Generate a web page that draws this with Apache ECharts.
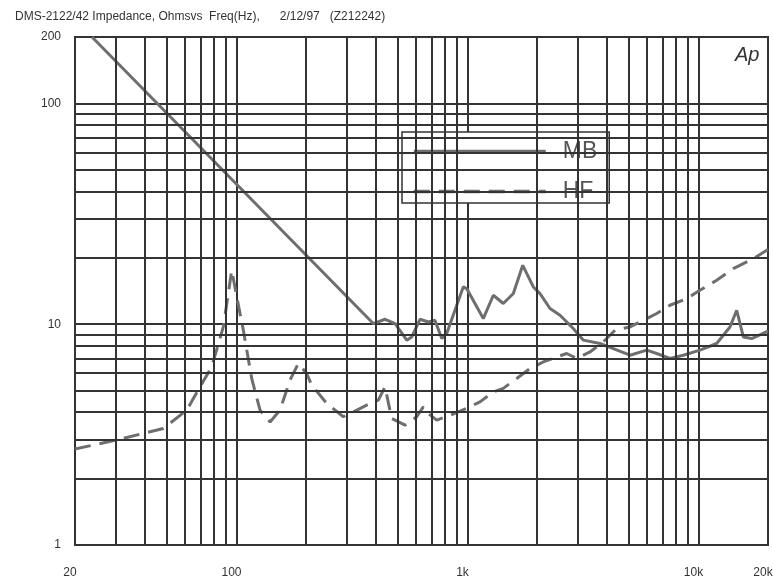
<!DOCTYPE html>
<html><head><meta charset="utf-8">
<script src="https://cdn.jsdelivr.net/npm/echarts@6/dist/echarts.min.js"></script>
<style>html,body{margin:0;padding:0;background:#fff}#c{width:773px;height:588px}</style>
</head><body><div id="c"></div>
<script>
const titleText = 'DMS-2122/42 Impedance, Ohmsvs  Freq(Hz),      2/12/97   (Z212242)';
const cornerMark = 'Ap';
const seriesNames = ['MB', 'HF'];

const freqMB = [23.7, 391, 440, 486, 546, 574, 623, 677, 723, 774, 813, 959, 992, 1171, 1294, 1429, 1580, 1735, 1928, 2061, 2277, 2516, 2871, 3174, 3748, 4278, 5054, 5970, 6596, 7530, 8596, 10150, 11990, 13690, 14640, 15640, 17000, 20000];
const zMB = [200, 10.07, 10.53, 10.07, 8.47, 8.76, 10.53, 10.24, 10.42, 8.61, 9.08, 14.75, 14.51, 10.61, 13.53, 12.41, 13.77, 18.49, 14.75, 13.77, 11.78, 10.98, 9.56, 8.47, 8.18, 7.76, 7.24, 7.63, 7.37, 7.0, 7.24, 7.63, 8.18, 9.72, 11.57, 8.76, 8.61, 9.3];

const freqHF = [20, 30.3, 48.2, 60.9, 69.5, 78.1, 87.7, 95.4, 103.6, 107.1, 116.4, 126.5, 139.8, 154.3, 170.5, 185.2, 201.4, 211.7, 245.8, 290.2, 320.6, 366.3, 411.2, 439.6, 470, 536.7, 603, 643.9, 676.6, 736, 840.4, 992.4, 1133, 1294, 1429, 1634, 1865, 2130, 2434, 2690, 2972, 3392, 3873, 4353, 5054, 5770, 6596, 7530, 8894, 10150, 11990, 14150, 17280, 20000];
const zHF = [2.72, 2.99, 3.37, 4.08, 5.20, 6.41, 9.72, 17.55, 11.18, 9.40, 5.68, 4.08, 3.61, 4.08, 5.58, 6.64, 5.98, 5.30, 4.38, 3.81, 4.01, 4.30, 4.53, 5.20, 3.74, 3.49, 3.81, 4.22, 3.94, 3.68, 3.87, 4.16, 4.45, 4.94, 5.12, 5.68, 6.30, 6.75, 7.11, 7.37, 7.0, 7.49, 8.32, 9.40, 9.72, 10.42, 11.18, 12.19, 13.07, 14.25, 15.82, 17.87, 19.83, 21.8];

const xTickValues = [20, 100, 1000, 10000, 20000];
const xTickLabels = ['20', '100', '1k', '10k', '20k'];
const yTickValues = [1, 10, 100, 200];
const yTickLabels = ['1', '10', '100', '200'];
const xMinorGrid = [30, 40, 50, 60, 70, 80, 90, 200, 300, 400, 500, 600, 700, 800, 900, 2000, 3000, 4000, 5000, 6000, 7000, 8000, 9000];
const yMinorGrid = [2, 3, 4, 5, 6, 7, 8, 9, 20, 30, 40, 50, 60, 70, 80, 90];

function pickLabel(vals, labels, v) {
  for (let i = 0; i < vals.length; i++) {
    if (Math.abs(v - vals[i]) / vals[i] < 1e-4) return labels[i];
  }
  return '';
}

const gridColor = '#333';
const lineColor = '#6e6e6e';
const chart = echarts.init(document.getElementById('c'), null, {renderer: 'canvas'});
chart.setOption({
  animation: false,
  backgroundColor: '#fff',
  title: {
    text: titleText, left: 10, top: 6,
    textStyle: {fontSize: 12, fontWeight: 'normal', color: '#333', fontFamily: 'Liberation Sans, Arial, sans-serif'}
  },
  grid: {left: 75, right: 5, top: 37, bottom: 43, containLabel: false, outerBoundsMode: 'none',
         show: true, borderColor: gridColor, borderWidth: 2, backgroundColor: 'transparent'},
  legend: {
    data: seriesNames, orient: 'vertical', left: 402, top: 132,
    itemWidth: 132, itemHeight: 20, itemGap: 17,
    padding: [8, 12, 0, 10],
    backgroundColor: '#fff', borderColor: '#333', borderWidth: 1.5,
    selectedMode: false,
    itemStyle: {opacity: 0},
    lineStyle: {width: 3.5, color: lineColor},
    textStyle: {fontSize: 23, color: '#555', padding: [0, 0, 0, 12], fontFamily: 'Liberation Sans, Arial, sans-serif'}
  },
  graphic: [{
    type: 'text', left: 735, top: 45, z: 10,
    style: {text: cornerMark, font: 'italic 20px "Liberation Sans", Arial, sans-serif', fill: '#333'}
  }],
  xAxis: {
    type: 'log', logBase: 10, min: 20, max: 20000,
    axisLine: {show: true, lineStyle: {color: gridColor, width: 2}},
    axisTick: {show: false},
    splitLine: {show: true, lineStyle: {color: gridColor, width: 2}},
    axisLabel: {
      margin: 22, fontSize: 12, color: '#333', fontFamily: 'Liberation Sans, Arial, sans-serif',
      padding: [0, 10, 0, 0],
      showMinLabel: true, showMaxLabel: true,
      formatter: v => pickLabel(xTickValues, xTickLabels, v)
    }
  },
  yAxis: {
    type: 'log', logBase: 10, min: 1, max: 200,
    axisLine: {show: true, lineStyle: {color: gridColor, width: 2}},
    axisTick: {show: false},
    splitLine: {show: true, lineStyle: {color: gridColor, width: 2}},
    axisLabel: {
      margin: 14, fontSize: 12, color: '#333', fontFamily: 'Liberation Sans, Arial, sans-serif',
      showMinLabel: true, showMaxLabel: true,
      formatter: v => pickLabel(yTickValues, yTickLabels, v)
    }
  },
  series: [
    {
      name: 'grid', type: 'line', data: [], silent: true, z: 1,
      markLine: {
        silent: true, symbol: 'none', animation: false,
        label: {show: false},
        lineStyle: {color: gridColor, width: 2, type: 'solid'},
        emphasis: {disabled: true},
        data: xMinorGrid.map(v => ({xAxis: v})).concat(yMinorGrid.map(v => ({yAxis: v})))
      }
    },
    {
      name: seriesNames[0], type: 'line', z: 3, symbol: 'none', smooth: false,
      data: freqMB.map((f, i) => [f, zMB[i]]),
      lineStyle: {color: lineColor, width: 3, type: 'solid'},
      itemStyle: {color: lineColor}
    },
    {
      name: seriesNames[1], type: 'line', z: 3, symbol: 'none', smooth: false,
      data: freqHF.map((f, i) => [f, zHF[i]]),
      lineStyle: {color: lineColor, width: 3, type: [16, 9]},
      itemStyle: {color: lineColor}
    }
  ]
});
</script>
</body></html>
